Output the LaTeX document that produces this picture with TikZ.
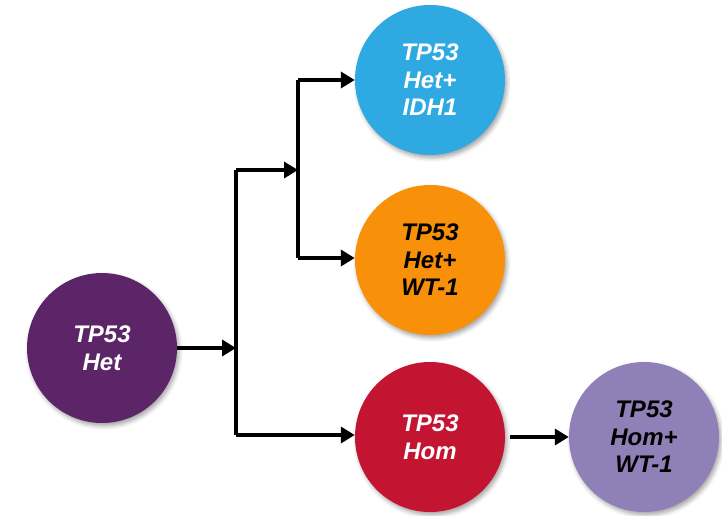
\documentclass[tikz,border=0pt]{standalone}
\usepackage{fontspec}
\setmainfont{Liberation Sans}
\usetikzlibrary{arrows.meta,shadows.blur}
\definecolor{hetpurple}{HTML}{5B2568}
\definecolor{idhblue}{HTML}{2EA9E1}
\definecolor{wtorange}{HTML}{F8900A}
\definecolor{homred}{HTML}{C31432}
\definecolor{lilac}{HTML}{9080B8}
\tikzset{
  stage/.style={circle, minimum size=150pt, inner sep=0pt, align=center,
    font=\fontsize{24}{27.5}\selectfont\bfseries\itshape,
    blur shadow={shadow xshift=2pt, shadow yshift=-3pt, shadow blur radius=4pt, shadow opacity=35}},
  link/.style={line width=3.5pt, black},
  arr/.style={link, -{Triangle[length=14pt,width=16pt]}}
}
\begin{document}
\begin{tikzpicture}[x=1pt,y=-1pt]
\useasboundingbox (0,0) rectangle (722,515);
% stages
\node[stage, fill=hetpurple, text=white] (het) at (102,348) {TP53\\Het};
\node[stage, fill=idhblue, text=white] (idh) at (430,80) {TP53\\Het+\\IDH1};
\node[stage, fill=wtorange, text=black] (wt) at (430,260) {TP53\\Het+\\WT-1};
\node[stage, fill=homred, text=white] (hom) at (430,437) {TP53\\Hom};
\node[stage, fill=lilac, text=black] (homwt) at (644,437) {TP53\\Hom+\\WT-1};
% branch points
\coordinate (j0) at (236,348);
\coordinate (ja) at (236,170);
\coordinate (jb) at (236,435);
\coordinate (j1) at (298,170);
\coordinate (ka) at (298,80);
\coordinate (kb) at (298,258);
% connectors
\draw[arr] (het.east) -- (j0);
\draw[link, line join=miter] (ja) -- (jb);
\draw[arr] (ja) -- (j1);
\draw[arr] (jb) -- (jb -| hom.west);
\draw[link] (ka) -- (kb);
\draw[arr] (ka) -- (ka -| idh.west);
\draw[arr] (kb) -- (kb -| wt.west);
\draw[arr] ([xshift=5pt]hom.east) -- (homwt.west);
\end{tikzpicture}
\end{document}
